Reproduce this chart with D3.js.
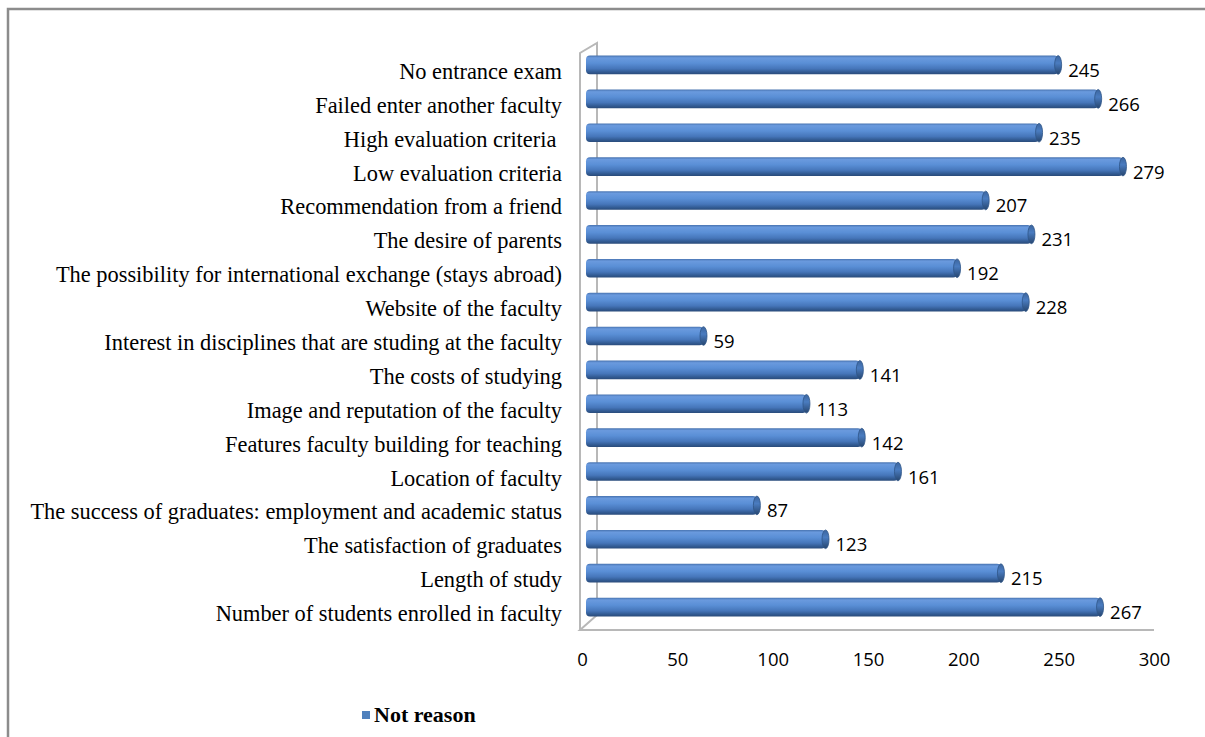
<!DOCTYPE html>
<html>
<head>
<meta charset="utf-8">
<script src="https://cdn.jsdelivr.net/npm/d3@7"></script>
<style>
  html, body { margin: 0; padding: 0; background: #fff; }
  svg { display: block; }
  .cat { font-family: "Liberation Serif", "Times New Roman", serif; font-size: 22.4px; fill: #000; }
  .val, .axis-x text { font-family: "Open Sans", "Noto Sans", sans-serif; font-size: 18.5px; fill: #000; }
  .legend { font-family: "Liberation Serif", "Times New Roman", serif; font-size: 22px; font-weight: bold; }
</style>
</head>
<body>
<div id="chart"></div>
<script>
// categories top to bottom
const categories = [
  "No entrance exam",
  "Failed enter another faculty",
  "High evaluation criteria ",
  "Low evaluation criteria",
  "Recommendation from a friend",
  "The desire of parents",
  "The possibility for international exchange (stays abroad)",
  "Website of the faculty",
  "Interest in disciplines that are studing at the faculty",
  "The costs of studying",
  "Image and reputation of the faculty",
  "Features faculty building for teaching",
  "Location of faculty",
  "The success of graduates: employment and academic status",
  "The satisfaction of graduates",
  "Length of study",
  "Number of students enrolled in faculty"
];
const notReason = [245, 266, 235, 279, 207, 231, 192, 228, 59, 141, 113, 142, 161, 87, 123, 215, 267];
const xTicks = [0, 50, 100, 150, 200, 250, 300];
const seriesName = "Not reason";

const width = 1205, height = 737;
const depthX = 17, depthY = 15;   // fake 3d depth of the plot box

const svg = d3.select("#chart").append("svg")
  .attr("width", width).attr("height", height);

// outer frame (only top + left visible)
svg.append("path")
  .attr("d", `M8,${height} L8,9 L${width},9`)
  .attr("fill", "none").attr("stroke", "#8c8c8c").attr("stroke-width", 2.5);

// front-plane x scale (ticks) and mid-depth scale (bars)
const x = d3.scaleLinear().domain([0, 300]).range([582, 1154]);
const xBar = d3.scaleLinear().domain([0, 300]).range([591, 1163]);

const y = d3.scaleBand()
  .domain(categories)
  .range([48, 624])
  .paddingInner(0.45)
  .paddingOuter(0.225);

const data = categories.map((c, i) => ({ c, v: notReason[i] }));

// gradient for cylinder bars
const defs = svg.append("defs");
const grad = defs.append("linearGradient").attr("id", "barGrad")
  .attr("x1", 0).attr("y1", 0).attr("x2", 0).attr("y2", 1);
[[0, "#4873b0"], [0.12, "#6a9ade"], [0.4, "#5a8fd6"], [0.7, "#4676ba"], [0.88, "#325b93"], [1, "#2a4b7a"]]
  .forEach(([o, col]) => grad.append("stop").attr("offset", o).attr("stop-color", col));
const capGrad = defs.append("linearGradient").attr("id", "capGrad")
  .attr("x1", 0).attr("y1", 0).attr("x2", 0).attr("y2", 1);
[[0, "#3c659e"], [0.4, "#4a7cc0"], [1, "#27466f"]]
  .forEach(([o, col]) => capGrad.append("stop").attr("offset", o).attr("stop-color", col));

// 3d frame: back wall edge, front edge, floor
const x0 = x(0) - 2, yTop = y.range()[0] + 5, yFloor = y.range()[1] + 6;
const frame = svg.append("g").attr("fill", "none").attr("stroke", "#b8b8b8").attr("stroke-width", 2);
frame.append("path")
  .attr("d", `M${x0},${yFloor} L${x0},${yTop} L${x0 + depthX},${yTop - depthY + 5} L${x0 + depthX},${yFloor - depthY}`);
frame.append("path")
  .attr("d", `M${x0 + depthX},${yFloor - depthY} L${x0},${yFloor} L${x(300)},${yFloor}`);

// bars
const bh = y.bandwidth();
const bars = svg.append("g");
bars.selectAll("rect.bar")
  .data(data)
  .join("rect")
  .attr("class", "bar")
  .attr("x", xBar(0) - 5)
  .attr("y", d => y(d.c))
  .attr("width", d => xBar(d.v) - xBar(0) + 5)
  .attr("height", bh)
  .attr("rx", 4)
  .attr("fill", "url(#barGrad)");
bars.selectAll("ellipse.cap")
  .data(data)
  .join("ellipse")
  .attr("class", "cap")
  .attr("cx", d => xBar(d.v))
  .attr("cy", d => y(d.c) + bh / 2)
  .attr("rx", 3.5)
  .attr("ry", bh / 2)
  .attr("fill", "url(#capGrad)")
  .attr("stroke", "#2f5588")
  .attr("stroke-width", 0.8);

// value labels
svg.selectAll("text.val")
  .data(data)
  .join("text")
  .attr("class", "val")
  .attr("x", d => xBar(d.v) + 10)
  .attr("y", d => y(d.c) + bh / 2 + 12)
  .text(d => d.v);

// category labels
svg.selectAll("text.cat")
  .data(data)
  .join("text")
  .attr("class", "cat")
  .attr("x", 562)
  .attr("y", d => y(d.c) + bh / 2 + 14)
  .attr("text-anchor", "end")
  .style("white-space", "pre")
  .text(d => d.c);

// x axis tick labels
svg.append("g")
  .attr("class", "axis-x")
  .attr("transform", `translate(0,${yFloor + 23})`)
  .call(d3.axisBottom(x).tickValues(xTicks).tickSize(0).tickPadding(0))
  .call(g => g.select(".domain").remove())
  .selectAll("text").attr("dy", "0.71em");

// legend
const lg = svg.append("g").attr("transform", "translate(362,711)");
lg.append("rect").attr("width", 8).attr("height", 8).attr("fill", "#4f81bd");
lg.append("text").attr("class", "legend").attr("x", 12).attr("y", 11).text(seriesName);
</script>
</body>
</html>
